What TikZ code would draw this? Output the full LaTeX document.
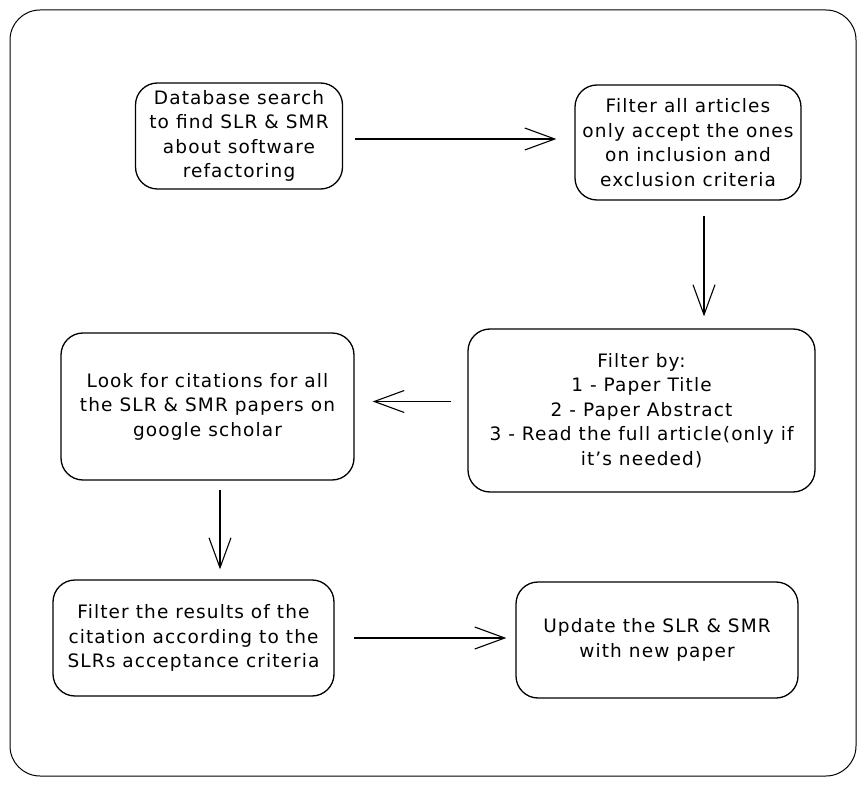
\documentclass[tikz,border=0pt]{standalone}
\usepackage{fontspec}
\setmainfont{DejaVu Sans}[LetterSpace=6]
\usetikzlibrary{arrows.meta}

\begin{document}
\begin{tikzpicture}[x=1pt,y=-1pt,
  box/.style={draw,rounded corners=22pt,line width=1.3pt,align=center,inner sep=0pt,
    font=\fontsize{18.5}{24.5}\selectfont},
  flow/.style={line width=1.1pt,-{Straight Barb[length=30pt,width=22pt,line width=1.1pt]}}]
\useasboundingbox (0,0) rectangle (865,786);
\draw[rounded corners=30pt,line width=1pt] (10,10) rectangle (856,776);
% boxes
\node[box,minimum width=207pt,minimum height=106pt] (search) at (239,136)
  {Database search\\to find SLR \& SMR\\about software\\refactoring};
\node[box,minimum width=226pt,minimum height=115pt] (filter) at (688,142.5)
  {Filter all articles\\only accept the ones\\on inclusion and\\exclusion criteria};
\node[box,minimum width=347pt,minimum height=163pt] (criteria) at (641.5,410.5)
  {Filter by:\\1 - Paper Title\\2 - Paper Abstract\\3 - Read the full article(only if\\it's needed)};
\node[box,minimum width=293pt,minimum height=147pt] (lookup) at (207.5,406.5)
  {Look for citations for all\\the SLR \& SMR papers on\\google scholar};
\node[box,minimum width=281pt,minimum height=116pt] (results) at (193.5,638)
  {Filter the results of the\\citation according to the\\SLRs acceptance criteria};
\node[box,minimum width=282pt,minimum height=116pt] (update) at (657,640)
  {Update the SLR \& SMR\\with new paper};
% arrows
\draw[flow,shorten <=12pt,shorten >=18pt] ([yshift=-3pt]search.east) -- ([yshift=-3pt]search.east -| filter.west);
\draw[flow,shorten <=15pt,shorten >=12pt] ([xshift=16pt]filter.south) -- ([xshift=16pt]filter.south |- criteria.north);
\draw[flow,shorten <=16pt,shorten >=18pt] ([yshift=9pt]criteria.west) -- ([yshift=9pt]criteria.west -| lookup.east);
\draw[flow,shorten <=9pt,shorten >=10pt] ([xshift=12.5pt]lookup.south) -- ([xshift=12.5pt]lookup.south |- results.north);
\draw[flow,shorten <=19pt,shorten >=9pt] (results.east) -- (results.east -| update.west);
\end{tikzpicture}
\end{document}
